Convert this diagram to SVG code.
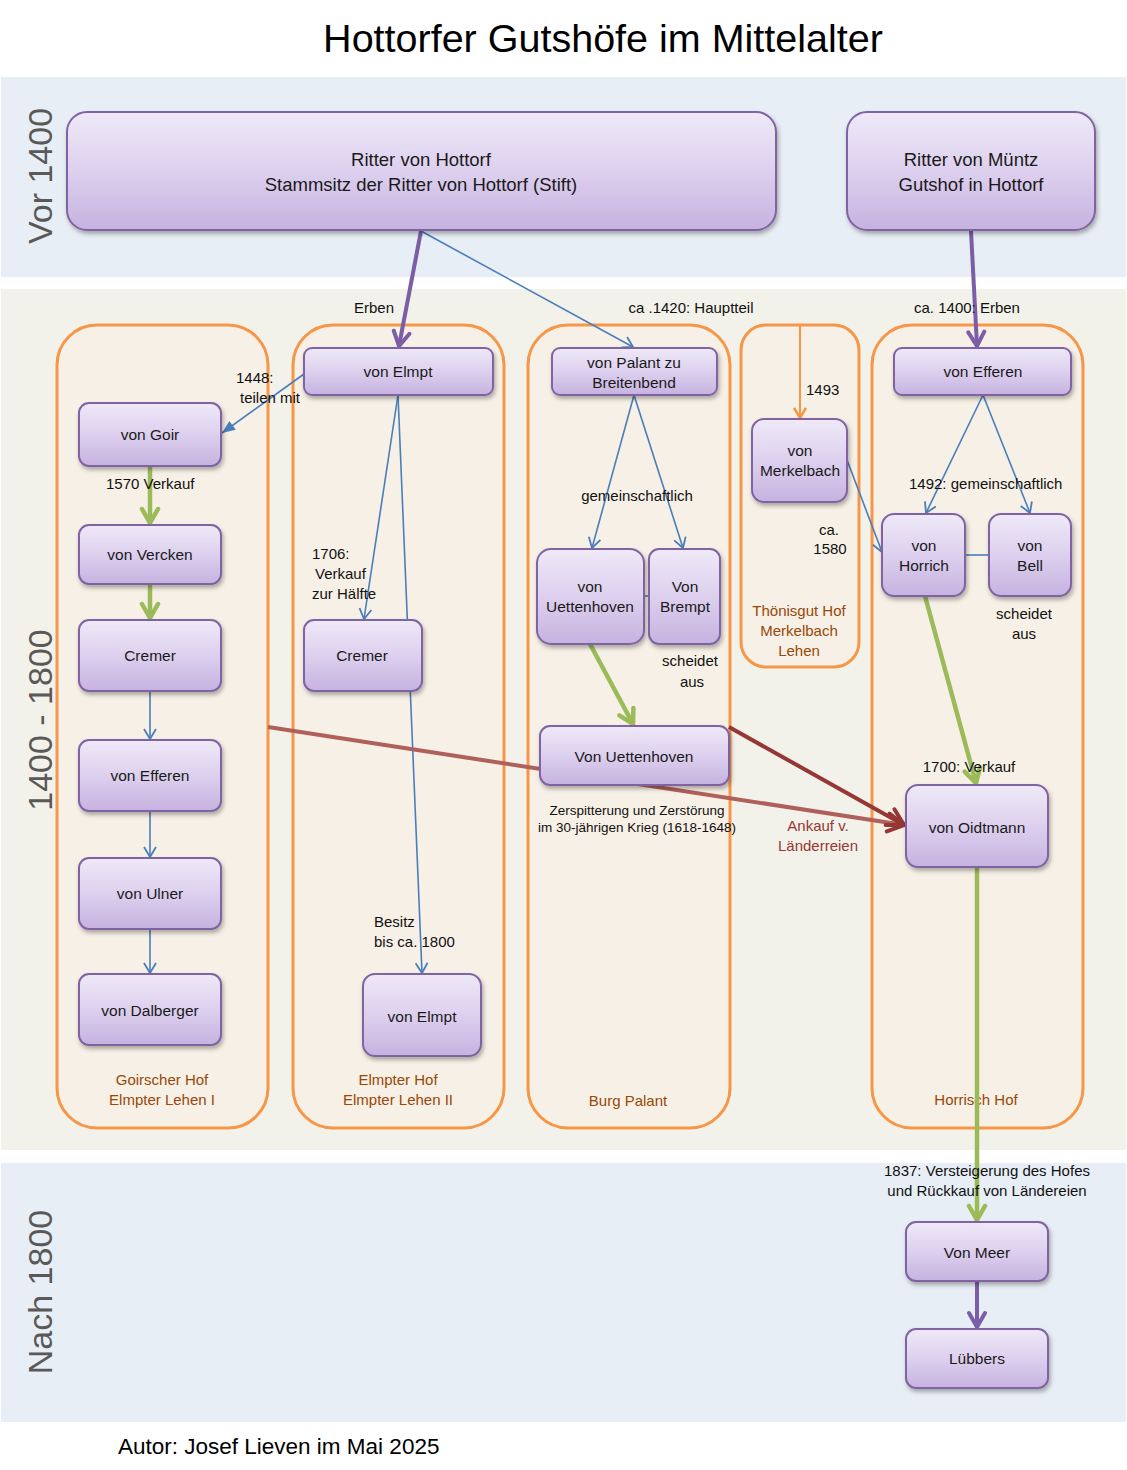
<svg xmlns="http://www.w3.org/2000/svg" width="1127" height="1470" viewBox="0 0 1127 1470">
<style>
.band1{fill:#e8eef5}
.band2{fill:#f3f2ea}
.cont{fill:#f7f0e6;stroke:#f79646;stroke-width:3}
.node{fill:url(#ng);stroke:#8064a2;stroke-width:2;filter:url(#sh)}
.nt{font-family:"Liberation Sans",Arial,sans-serif;font-size:15.5px;fill:#1a1a1a;text-anchor:middle}
.big{font-size:18.5px}
.lbl{font-family:"Liberation Sans",Arial,sans-serif;font-size:15px;fill:#111}
.small{font-size:13.5px}
.redt{fill:#953735}
.c{text-anchor:middle}
.hof{font-family:"Liberation Sans",Arial,sans-serif;font-size:15px;fill:#984807;text-anchor:middle}
.era{font-family:"Liberation Sans",Arial,sans-serif;font-size:34px;fill:#595959;text-anchor:middle}
.blue{stroke:#4a7ebb;stroke-width:1.6;fill:none}
.purple{stroke:#7b5ea7;stroke-width:4;fill:none}
.green{stroke:#9bbb59;stroke-width:4.5;fill:none}
.red{stroke-width:4;fill:none}
.orange{stroke:#f79646;stroke-width:2;fill:none}
</style>
<defs>
<linearGradient id="ng" x1="0" y1="0" x2="0" y2="1">
<stop offset="0" stop-color="#efe9f8"/>
<stop offset="0.5" stop-color="#ddd0ee"/>
<stop offset="1" stop-color="#c6b2e0"/>
</linearGradient>
<filter id="sh" x="-10%" y="-10%" width="125%" height="135%">
<feDropShadow dx="1.5" dy="3" stdDeviation="2" flood-color="#000" flood-opacity="0.3"/>
</filter>
<marker id="aB" markerUnits="userSpaceOnUse" viewBox="-12 -7 14 14" refX="0" refY="0" markerWidth="14" markerHeight="14" orient="auto">
<path d="M-10,-6 L0,0 L-10,6" fill="none" stroke="#4a7ebb" stroke-width="1.8"/>
</marker>
<marker id="aBF" markerUnits="userSpaceOnUse" viewBox="-14 -7 16 14" refX="0" refY="0" markerWidth="16" markerHeight="14" orient="auto">
<path d="M-13,-5.5 L0,0 L-13,5.5 Z" fill="#4a7ebb"/>
</marker>
<marker id="aO" markerUnits="userSpaceOnUse" viewBox="-12 -7 14 14" refX="0" refY="0" markerWidth="14" markerHeight="14" orient="auto">
<path d="M-10,-6 L0,0 L-10,6" fill="none" stroke="#f79646" stroke-width="2.5"/>
</marker>
<marker id="aP" markerUnits="userSpaceOnUse" viewBox="-18 -11 20 22" refX="0" refY="0" markerWidth="20" markerHeight="22" orient="auto">
<path d="M-14,-8 L0,0 L-14,8" fill="none" stroke="#7b5ea7" stroke-width="4" stroke-linecap="round"/>
</marker>
<marker id="aG" markerUnits="userSpaceOnUse" viewBox="-18 -11 20 22" refX="0" refY="0" markerWidth="20" markerHeight="22" orient="auto">
<path d="M-14,-8 L0,0 L-14,8" fill="none" stroke="#9bbb59" stroke-width="4.5" stroke-linecap="round"/>
</marker>
<marker id="aR" markerUnits="userSpaceOnUse" viewBox="-20 -12 22 24" refX="0" refY="0" markerWidth="22" markerHeight="24" orient="auto">
<path d="M-16,-9 L0,0 L-16,9" fill="none" stroke="#953735" stroke-width="4" stroke-linecap="round"/>
</marker>
</defs>

<rect width="1127" height="1470" fill="#ffffff"/>
<text x="603" y="52" font-family="'Liberation Sans',Arial,sans-serif" font-size="39.5" fill="#000" text-anchor="middle">Hottorfer Gutshöfe im Mittelalter</text>

<g id="bands">
<rect class="band1" x="1" y="77" width="1125" height="200"/>
<rect class="band2" x="1" y="289" width="1125" height="861"/>
<rect class="band1" x="1" y="1163" width="1125" height="259"/>
<text class="era" transform="translate(52,176) rotate(-90)">Vor 1400</text>
<text class="era" transform="translate(52,720) rotate(-90)">1400 - 1800</text>
<text class="era" transform="translate(52,1292) rotate(-90)">Nach 1800</text>
</g>

<g id="containers">
<g id="goirscher-hof"><rect class="cont" x="57" y="325" width="211" height="803" rx="40"/>
<text class="hof" x="162" y="1085">Goirscher Hof</text><text class="hof" x="162" y="1105">Elmpter Lehen I</text></g>
<g id="elmpter-hof"><rect class="cont" x="293" y="325" width="211" height="803" rx="40"/>
<text class="hof" x="398" y="1085">Elmpter Hof</text><text class="hof" x="398" y="1105">Elmpter Lehen II</text></g>
<g id="burg-palant"><rect class="cont" x="528" y="325" width="202" height="803" rx="40"/>
<text class="hof" x="628" y="1106">Burg Palant</text></g>
<g id="thoenisgut"><rect class="cont" x="741" y="325" width="118" height="342" rx="25"/>
<text class="hof" x="799" y="616">Thönisgut Hof</text><text class="hof" x="799" y="636">Merkelbach</text><text class="hof" x="799" y="656">Lehen</text></g>
<g id="horrisch-hof"><rect class="cont" x="872" y="325" width="211" height="803" rx="40"/>
<text class="hof" x="976" y="1105">Horrisch Hof</text></g>
</g>

<g id="connectors">
<line class="purple" x1="421" y1="231" x2="399" y2="346" marker-end="url(#aP)"/>
<line class="purple" x1="971" y1="231" x2="977" y2="346" marker-end="url(#aP)"/>
<line class="blue" x1="421" y1="231" x2="633" y2="347" marker-end="url(#aB)"/>
<line class="blue" x1="304" y1="374" x2="222" y2="433" marker-end="url(#aBF)"/>
<line class="green" x1="150" y1="466" x2="150" y2="523" marker-end="url(#aG)"/>
<line class="green" x1="150" y1="585" x2="150" y2="618" marker-end="url(#aG)"/>
<line class="blue" x1="150" y1="691" x2="150" y2="739" marker-end="url(#aB)"/>
<line class="blue" x1="150" y1="811" x2="150" y2="857" marker-end="url(#aB)"/>
<line class="blue" x1="150" y1="929" x2="150" y2="973" marker-end="url(#aB)"/>
<line class="blue" x1="398" y1="395" x2="364" y2="619" marker-end="url(#aB)"/>
<line class="blue" x1="398" y1="395" x2="422" y2="973" marker-end="url(#aB)"/>
<line class="blue" x1="634" y1="395" x2="592" y2="548" marker-end="url(#aB)"/>
<line class="blue" x1="634" y1="395" x2="683" y2="548" marker-end="url(#aB)"/>
<line class="blue" x1="644" y1="596" x2="649" y2="596" stroke-width="2"/>
<line class="orange" x1="800" y1="326" x2="800" y2="418" marker-end="url(#aO)"/>
<line class="blue" x1="847" y1="460" x2="882" y2="552" marker-end="url(#aB)"/>
<line class="blue" x1="983" y1="395" x2="926" y2="513" marker-end="url(#aB)"/>
<line class="blue" x1="983" y1="395" x2="1030" y2="513" marker-end="url(#aB)"/>
<line class="blue" x1="965" y1="555" x2="989" y2="555" stroke-width="2"/>
<line class="green" x1="590" y1="644" x2="633" y2="724" marker-end="url(#aG)"/>
<line class="green" x1="925" y1="596" x2="976" y2="783" marker-end="url(#aG)"/>
<line class="green" x1="977" y1="867" x2="977" y2="1220" marker-end="url(#aG)"/>
<line class="purple" x1="977" y1="1281" x2="977" y2="1327" marker-end="url(#aP)"/>
<line class="red" x1="268" y1="727" x2="904" y2="825" stroke="#b0605b" marker-end="url(#aR)"/>
<line class="red" x1="729" y1="727" x2="904" y2="825" stroke="#953735" marker-end="url(#aR)"/>
</g>

<g id="labels">
<text class="lbl c" x="374" y="313">Erben</text>
<text class="lbl c" x="691" y="313">ca .1420: Hauptteil</text>
<text class="lbl c" x="967" y="313">ca. 1400:  Erben</text>
<text class="lbl" x="236" y="383">1448:</text>
<text class="lbl" x="240" y="403">teilen mit</text>
<text class="lbl" x="106" y="489">1570 Verkauf</text>
<text class="lbl" x="312" y="559">1706:</text>
<text class="lbl" x="315" y="579">Verkauf</text>
<text class="lbl" x="312" y="599">zur Hälfte</text>
<text class="lbl" x="374" y="927">Besitz</text>
<text class="lbl" x="374" y="947">bis ca. 1800</text>
<text class="lbl c" x="637" y="501">gemeinschaftlich</text>
<text class="lbl" x="806" y="395">1493</text>
<text class="lbl c" x="829" y="535">ca.</text>
<text class="lbl c" x="830" y="554">1580</text>
<text class="lbl" x="909" y="489">1492: gemeinschaftlich</text>
<text class="lbl c" x="1024" y="619">scheidet</text>
<text class="lbl c" x="1024" y="639">aus</text>
<text class="lbl c" x="690" y="666">scheidet</text>
<text class="lbl c" x="692" y="687">aus</text>
<text class="lbl c small" x="637" y="815">Zerspitterung und Zerstörung</text>
<text class="lbl c small" x="637" y="832">im 30-jährigen Krieg  (1618-1648)</text>
<text class="lbl c redt" x="818" y="831">Ankauf v.</text>
<text class="lbl c redt" x="818" y="851">Länderreien</text>
<text class="lbl c" x="969" y="772">1700: Verkauf</text>
<text class="lbl c" x="987" y="1176">1837: Versteigerung des Hofes</text>
<text class="lbl c" x="987" y="1196">und Rückkauf von Ländereien</text>
</g>

<g id="nodes">
<g id="ritter-hottorf"><rect class="node" x="67" y="112" width="709" height="118" rx="20"/>
<text class="nt big" x="421" y="166">Ritter von Hottorf</text><text class="nt big" x="421" y="191">Stammsitz der Ritter von Hottorf (Stift)</text></g>
<g id="ritter-muentz"><rect class="node" x="847" y="112" width="248" height="118" rx="20"/>
<text class="nt big" x="971" y="166">Ritter von Müntz</text><text class="nt big" x="971" y="191">Gutshof in Hottorf</text></g>
<g id="von-elmpt-1"><rect class="node" x="304" y="348" width="189" height="47" rx="8"/>
<text class="nt" x="398" y="377">von Elmpt</text></g>
<g id="von-palant"><rect class="node" x="552" y="348" width="165" height="47" rx="8"/>
<text class="nt" x="634" y="368">von Palant zu</text><text class="nt" x="634" y="388">Breitenbend</text></g>
<g id="von-efferen-1"><rect class="node" x="894" y="348" width="177" height="47" rx="8"/>
<text class="nt" x="983" y="377">von Efferen</text></g>
<g id="von-goir"><rect class="node" x="79" y="403" width="142" height="63" rx="10"/>
<text class="nt" x="150" y="440">von Goir</text></g>
<g id="von-vercken"><rect class="node" x="79" y="525" width="142" height="59" rx="10"/>
<text class="nt" x="150" y="560">von Vercken</text></g>
<g id="cremer-1"><rect class="node" x="79" y="620" width="142" height="71" rx="10"/>
<text class="nt" x="150" y="661">Cremer</text></g>
<g id="von-efferen-2"><rect class="node" x="79" y="740" width="142" height="71" rx="10"/>
<text class="nt" x="150" y="781">von Efferen</text></g>
<g id="von-ulner"><rect class="node" x="79" y="858" width="142" height="71" rx="10"/>
<text class="nt" x="150" y="899">von Ulner</text></g>
<g id="von-dalberger"><rect class="node" x="79" y="974" width="142" height="71" rx="10"/>
<text class="nt" x="150" y="1016">von Dalberger</text></g>
<g id="cremer-2"><rect class="node" x="304" y="620" width="118" height="71" rx="10"/>
<text class="nt" x="362" y="661">Cremer</text></g>
<g id="von-elmpt-2"><rect class="node" x="363" y="974" width="118" height="82" rx="12"/>
<text class="nt" x="422" y="1022">von Elmpt</text></g>
<g id="von-merkelbach"><rect class="node" x="752" y="419" width="95" height="83" rx="12"/>
<text class="nt" x="800" y="456">von</text><text class="nt" x="800" y="476">Merkelbach</text></g>
<g id="von-uettenhoven-1"><rect class="node" x="537" y="549" width="107" height="95" rx="14"/>
<text class="nt" x="590" y="592">von</text><text class="nt" x="590" y="612">Uettenhoven</text></g>
<g id="von-brempt"><rect class="node" x="649" y="549" width="71" height="95" rx="10"/>
<text class="nt" x="685" y="592">Von</text><text class="nt" x="685" y="612">Brempt</text></g>
<g id="von-uettenhoven-2"><rect class="node" x="540" y="726" width="189" height="59" rx="10"/>
<text class="nt" x="634" y="762">Von Uettenhoven</text></g>
<g id="von-horrich"><rect class="node" x="882" y="514" width="83" height="82" rx="12"/>
<text class="nt" x="924" y="551">von</text><text class="nt" x="924" y="571">Horrich</text></g>
<g id="von-bell"><rect class="node" x="989" y="514" width="82" height="82" rx="12"/>
<text class="nt" x="1030" y="551">von</text><text class="nt" x="1030" y="571">Bell</text></g>
<g id="von-oidtmann"><rect class="node" x="906" y="785" width="142" height="82" rx="12"/>
<text class="nt" x="977" y="833">von Oidtmann</text></g>
<g id="von-meer"><rect class="node" x="906" y="1222" width="142" height="59" rx="10"/>
<text class="nt" x="977" y="1258">Von Meer</text></g>
<g id="luebbers"><rect class="node" x="906" y="1329" width="142" height="59" rx="10"/>
<text class="nt" x="977" y="1364">Lübbers</text></g>
</g>

<text x="118" y="1454" font-family="'Liberation Sans',Arial,sans-serif" font-size="22.5" fill="#000">Autor: Josef Lieven im Mai 2025</text>
</svg>
